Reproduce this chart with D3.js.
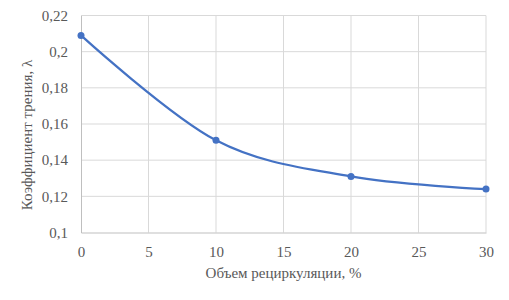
<!DOCTYPE html>
<html>
<head>
<meta charset="utf-8">
<script src="https://cdn.jsdelivr.net/npm/d3@7"></script>
<style>
  body { margin: 0; background: #fff; }
</style>
</head>
<body>
<div id="chart"></div>
<script>
// Data
const recycle = [0, 10, 20, 30];
const friction = [0.209, 0.151, 0.131, 0.124];
const xTicks = [0, 5, 10, 15, 20, 25, 30];
const yTicks = [0.1, 0.12, 0.14, 0.16, 0.18, 0.2, 0.22];

const width = 509, height = 300;
const margins = {top: 15.5, right: 23, bottom: 67.5, left: 81};
const serif = '"Times New Roman", "Liberation Serif", "DejaVu Serif", serif';
const fontSize = 15;

const svg = d3.select("#chart")
    .append("svg")
    .attr("width", width)
    .attr("height", height);

const xScale = d3.scaleLinear()
    .domain([0, 30])
    .range([margins.left, width - margins.right]);
const yScale = d3.scaleLinear()
    .domain([0.1, 0.22])
    .range([height - margins.bottom, margins.top]);

// decimal comma, as in the original
const fmt = d => String(+d.toFixed(2)).replace(".", ",");

// gridlines
svg.append("g")
    .selectAll("line")
    .data(yTicks.slice(1))
    .join("line")
    .attr("x1", margins.left)
    .attr("x2", width - margins.right)
    .attr("y1", d => yScale(d))
    .attr("y2", d => yScale(d))
    .attr("stroke", "#d9d9d9");

svg.append("g")
    .selectAll("line")
    .data(xTicks.slice(1))
    .join("line")
    .attr("x1", d => xScale(d))
    .attr("x2", d => xScale(d))
    .attr("y1", margins.top)
    .attr("y2", height - margins.bottom)
    .attr("stroke", "#d9d9d9");

// axes
const xGroup = svg.append("g")
    .attr("transform", `translate(0,${height - margins.bottom})`)
    .call(d3.axisBottom(xScale).tickValues(xTicks).tickSize(0).tickPadding(14));
const yGroup = svg.append("g")
    .attr("transform", `translate(${margins.left},0)`)
    .call(d3.axisLeft(yScale).tickValues(yTicks).tickFormat(fmt).tickSize(0).tickPadding(13));

[xGroup, yGroup].forEach(g => {
    g.attr("font-family", serif).attr("font-size", fontSize);
    g.select(".domain").attr("stroke", "#bfbfbf");
    g.selectAll("text").attr("fill", "#595959");
});

// smoothed line + markers
const pts = recycle.map((r, i) => [r, friction[i]]);
const line = d3.line()
    .curve(d3.curveCatmullRom.alpha(0))
    .x(d => xScale(d[0]))
    .y(d => yScale(d[1]));

svg.append("path")
    .datum(pts)
    .attr("d", line)
    .attr("fill", "none")
    .attr("stroke", "#4472c4")
    .attr("stroke-width", 2.25);

svg.append("g")
    .selectAll("circle")
    .data(pts)
    .join("circle")
    .attr("cx", d => xScale(d[0]))
    .attr("cy", d => yScale(d[1]))
    .attr("r", 3.5)
    .attr("fill", "#4472c4");

// axis titles
svg.append("text")
    .attr("x", (margins.left + width - margins.right) / 2)
    .attr("y", 278)
    .attr("text-anchor", "middle")
    .attr("font-family", serif)
    .attr("font-size", fontSize)
    .attr("fill", "#595959")
    .text("Объем рециркуляции, %");

svg.append("text")
    .attr("transform", "rotate(-90)")
    .attr("x", -135)
    .attr("y", 32)
    .attr("text-anchor", "middle")
    .attr("font-family", serif)
    .attr("font-size", fontSize)
    .attr("fill", "#595959")
    .text("Коэффициент трения, λ");
</script>
</body>
</html>
